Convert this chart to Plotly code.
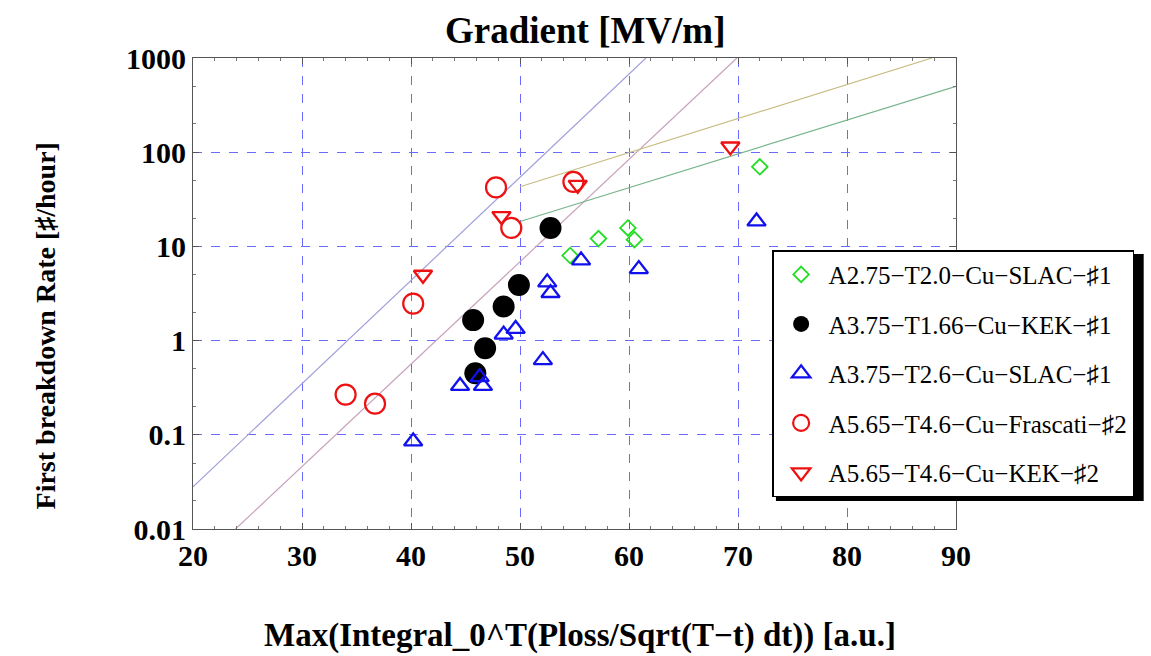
import plotly.graph_objects as go

# ---------------- data ----------------
green_x = [54.6, 57.2, 59.9, 60.5, 72.0]
green_y = [8.0, 12.1, 15.7, 11.8, 70.0]

black_x = [45.9, 46.8, 45.7, 48.5, 49.9, 52.8]
black_y = [0.45, 0.83, 1.65, 2.3, 3.9, 15.7]

blue_x = [40.2, 44.5, 46.3, 46.6, 48.5, 49.6, 52.1, 52.5, 52.8, 55.6, 60.9, 71.7]
blue_y = [0.085, 0.33, 0.41, 0.33, 1.16, 1.33, 0.62, 4.15, 3.2, 7.1, 5.75, 18.4]

redc_x = [34.0, 36.7, 40.2, 47.8, 49.2, 54.9]
redc_y = [0.267, 0.214, 2.47, 42.3, 15.7, 48.3]

redt_x = [41.1, 48.3, 55.3, 69.3]
redt_y = [5.0, 21.0, 45.0, 115.0]

# fit lines (endpoints)
fit_blue_x = [20.0, 61.55]
fit_blue_y = [0.028, 1000.0]
fit_pink_x = [23.9, 69.9]
fit_pink_y = [0.01, 1000.0]
fit_olive_x = [50.0, 87.8]
fit_olive_y = [43.0, 1000.0]
fit_green_x = [50.0, 90.0]
fit_green_y = [18.4, 500.0]

legend_names = [
    "A2.75\u2212T2.0\u2212Cu\u2212SLAC\u2212\u266f1",
    "A3.75\u2212T1.66\u2212Cu\u2212KEK\u2212\u266f1",
    "A3.75\u2212T2.6\u2212Cu\u2212SLAC\u2212\u266f1",
    "A5.65\u2212T4.6\u2212Cu\u2212Frascati\u2212\u266f2",
    "A5.65\u2212T4.6\u2212Cu\u2212KEK\u2212\u266f2",
]

y_tickvals = [0.01, 0.1, 1, 10, 100, 1000]
y_ticktext = ["0.01", "0.1", "1", "10", "100", "1000"]
x_tickvals = [20, 30, 40, 50, 60, 70, 80, 90]

SERIF = "Liberation Serif, Times New Roman, serif"

fig = go.Figure()

# fit lines
for fx, fy, col in [
    (fit_blue_x, fit_blue_y, "#a0a0dc"),
    (fit_pink_x, fit_pink_y, "#c8a0bc"),
    (fit_olive_x, fit_olive_y, "#c8bc84"),
    (fit_green_x, fit_green_y, "#78b48c"),
]:
    fig.add_trace(go.Scatter(x=fx, y=fy, mode="lines", line=dict(color=col, width=1.2),
                             showlegend=False, hoverinfo="skip"))

# data series
fig.add_trace(go.Scatter(x=green_x, y=green_y, mode="markers", name=legend_names[0],
                         legendgroup="g1",
                         marker=dict(symbol="diamond-open", size=12, color="#22dd22",
                                     line=dict(width=1.8, color="#22dd22"))))
fig.add_trace(go.Scatter(x=black_x, y=black_y, mode="markers", name=legend_names[1],
                         legendgroup="g2",
                         marker=dict(symbol="circle", size=22, color="black",
                                     line=dict(width=0))))
fig.add_trace(go.Scatter(x=blue_x, y=blue_y, mode="markers", name=legend_names[2],
                         legendgroup="g3",
                         marker=dict(symbol="triangle-up-open", size=16, color="#1111ee",
                                     line=dict(width=2.3, color="#1111ee"))))
fig.add_trace(go.Scatter(x=redc_x, y=redc_y, mode="markers", name=legend_names[3],
                         legendgroup="g4",
                         marker=dict(symbol="circle-open", size=20, color="#ee1111",
                                     line=dict(width=2.2, color="#ee1111"))))
fig.add_trace(go.Scatter(x=redt_x, y=redt_y, mode="markers", name=legend_names[4],
                         legendgroup="g5",
                         marker=dict(symbol="triangle-down-open", size=16, color="#ee1111",
                                     line=dict(width=2.3, color="#ee1111"))))

axis_common = dict(
    showline=True, linecolor="#555555", linewidth=1.2, mirror="allticks",
    ticks="inside", ticklen=6, tickcolor="#555555", tickwidth=1,
    showgrid=True, gridcolor="#6a6aff", griddash="dash", gridwidth=1,
    zeroline=False,
    tickfont=dict(family=SERIF, size=30, color="black", weight="bold"),
)

fig.update_xaxes(range=[20, 90], tickvals=x_tickvals,
                 minor=dict(ticks="inside", ticklen=3, tickcolor="#777777", dtick=2, showgrid=False),
                 **axis_common)
fig.update_yaxes(type="log", range=[-2, 3], tickvals=y_tickvals, ticktext=y_ticktext,
                 minor=dict(ticks="inside", ticklen=3, tickcolor="#777777", showgrid=False),
                 **axis_common)

fig.update_layout(
    width=1151, height=656, autosize=False,
    margin=dict(l=193, r=195, t=58, b=127),
    plot_bgcolor="white", paper_bgcolor="white",
    font=dict(family=SERIF, color="black"),
    legend=dict(x=0.759, y=0.592, xanchor="left", yanchor="top",
                bgcolor="white", bordercolor="black", borderwidth=1.5,
                font=dict(family=SERIF, size=25, color="black"),
                itemwidth=45,
                tracegroupgap=14, traceorder="grouped"),
    shapes=[dict(type="rect", xref="paper", yref="paper",
                 x0=0.764, x1=1.246, y0=0.0594, y1=0.584,
                 fillcolor="black", line=dict(width=0), layer="above")],
    annotations=[
        dict(text="<b>Gradient [MV/m]</b>", xref="paper", yref="paper",
             x=0.514, y=1.0, yshift=28, xanchor="center", yanchor="middle",
             showarrow=False, font=dict(family=SERIF, size=37, color="black")),
        dict(text="<b>Max(Integral_0^T(Ploss/Sqrt(T\u2212t) dt)) [a.u.]</b>", xref="paper", yref="paper",
             x=0.507, y=0, yshift=-106, xanchor="center", yanchor="middle",
             showarrow=False, font=dict(family=SERIF, size=33, color="black")),
        dict(text="<b>First breakdown Rate [\u266f/hour]</b>", xref="paper", yref="paper",
             x=0, xshift=-148, y=0.43, xanchor="center", yanchor="middle", textangle=-90,
             showarrow=False, font=dict(family=SERIF, size=28, color="black")),
    ],
)

fig.write_html("out.html")
